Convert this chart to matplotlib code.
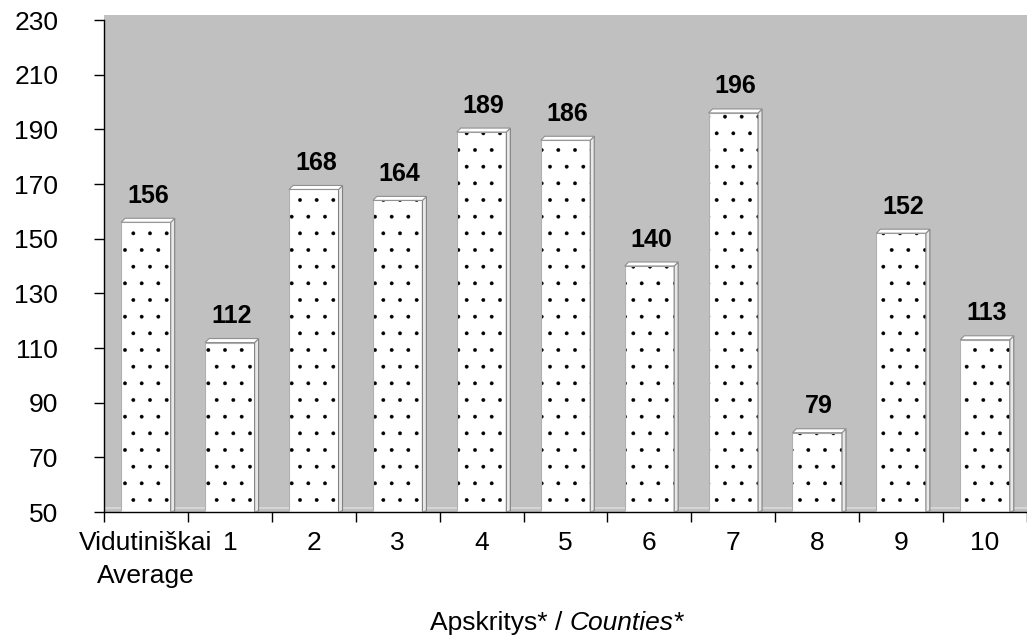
import numpy as np
import matplotlib.pyplot as plt
from matplotlib.patches import Polygon

plt.rcParams['font.family'] = ['Liberation Sans', 'DejaVu Sans']
plt.rcParams['hatch.linewidth'] = 0.3

labels = ['Vidutiniškai\nAverage', '1', '2', '3', '4', '5', '6', '7', '8', '9', '10']
values = [156, 112, 168, 164, 189, 186, 140, 196, 79, 152, 113]
yticks = [50, 70, 90, 110, 130, 150, 170, 190, 210, 230]

fs = 19
x = np.arange(len(values))
vals = np.array(values)

fig = plt.figure(figsize=(10.27, 6.4), dpi=100)
ax = fig.add_axes([104 / 1027, 128 / 640, 923 / 1027, 497 / 640])
ax.set_facecolor('#c0c0c0')

ymin = 50
ymax = 230 + 5 * 180 / 492
ax.set_ylim(ymin, ymax)
ax.set_xlim(-0.5, -0.5 + 923 / 84.3)

w = 0.59
dx = 4 / 84.3           # depth of the fake 3d bars, in data units
dy = 4 * 180 / 492

# floor line
ax.plot([-0.5, 11], [ymin + 1.3, ymin + 1.3], color='#dadada', lw=1.2, zorder=1)

# front faces: dots then outline
ax.bar(x, vals - ymin, bottom=ymin, width=w, color='white', edgecolor='black',
       hatch='.', linewidth=0, zorder=2)
ax.bar(x, vals - ymin, bottom=ymin, width=w, fill=False, edgecolor='#b0b0b0',
       linewidth=0.8, zorder=3)

for xi, v in zip(x, vals):
    l, r = xi - w / 2, xi + w / 2
    # right side
    side = Polygon([[r, ymin], [r + dx, ymin + dy * 0.3], [r + dx, v + dy], [r, v]],
                   closed=True, facecolor='#e8e8e8', edgecolor='#808080', lw=0.8, zorder=3)
    ax.add_patch(side)
    # top
    top = Polygon([[l, v], [r, v], [r + dx, v + dy], [l + dx, v + dy]],
                  closed=True, facecolor='white', edgecolor='#909090', lw=0.8, zorder=4)
    ax.add_patch(top)
    ax.annotate(str(v), (xi + dx / 2, v), xytext=(0, 14), textcoords='offset points',
                ha='center', va='baseline', fontsize=18, fontweight='bold', zorder=5)

for s in ['top', 'right']:
    ax.spines[s].set_visible(False)
ax.spines['left'].set_bounds(50, 230)
ax.spines['left'].set_linewidth(1)
ax.spines['bottom'].set_linewidth(1)

ax.set_yticks(yticks)
ax.set_yticklabels([str(t) for t in yticks], fontsize=fs)
ax.tick_params(axis='y', length=7, width=1, pad=26)

ax.set_xticks(x)
ax.set_xticklabels(labels, fontsize=fs, linespacing=1.45)
ax.set_xticks(np.arange(-0.5, len(values), 1), minor=True)
ax.tick_params(axis='x', which='major', length=0, pad=14)
ax.tick_params(axis='x', which='minor', length=7, width=1)

t1 = fig.text(430 / 1027, 10 / 640, 'Apskritys* / ', ha='left', va='baseline', fontsize=fs)
fig.canvas.draw()
bb = t1.get_window_extent()
fig.text(bb.x1 / 1027, 10 / 640, 'Counties*', ha='left', va='baseline', fontsize=fs,
         style='italic')

plt.savefig('out.png', dpi=100)
